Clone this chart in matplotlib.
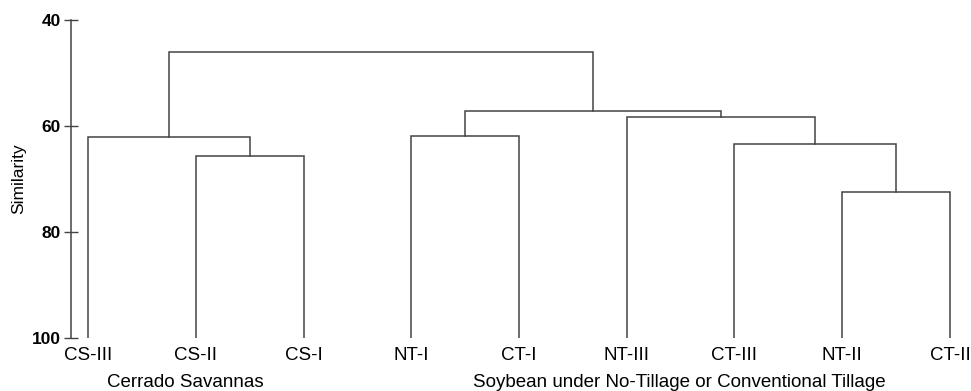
import matplotlib
matplotlib.use("Agg")
import matplotlib.pyplot as plt

plt.rcParams['font.family'] = ['Liberation Sans', 'DejaVu Sans']

# leaves in dendrogram order
leaf_labels = ['CS-III', 'CS-II', 'CS-I', 'NT-I', 'CT-I',
               'NT-III', 'CT-III', 'NT-II', 'CT-II']

# merges: child a, child b, similarity (new cluster ids start at len(leaf_labels))
merge_a = [1, 0, 3, 7, 6, 5, 11, 10]
merge_b = [2, 9, 4, 8, 12, 13, 14, 15]
merge_sim = [65.6, 62.1, 61.9, 72.5, 63.3, 58.3, 57.2, 46.0]

group_names = ['Cerrado Savannas',
               'Soybean under No-Tillage or Conventional Tillage']
group_centers = [0.9, 5.49]

line_col = '#444444'

fig = plt.figure(figsize=(9.71, 3.91), dpi=100)
ax = fig.add_axes([0.0728, 0.1348, 0.9272, 0.814])

n = len(leaf_labels)
pos = {i: float(i) for i in range(n)}
height = {i: 100.0 for i in range(n)}

for k, (a, b, h) in enumerate(zip(merge_a, merge_b, merge_sim)):
    xa, xb = pos[a], pos[b]
    ax.plot([xa, xa, xb, xb], [height[a], h, h, height[b]],
            color=line_col, lw=1.1, solid_joinstyle='miter')
    pos[n + k] = (xa + xb) / 2
    height[n + k] = h

ax.set_ylim(100, 40)
ax.set_xlim(-0.163, 8.196)
ax.set_yticks([40, 60, 80, 100])
ax.tick_params(axis='y', direction='inout', length=10.5, width=1,
               color=line_col, labelsize=12.5, pad=2)
for t in ax.get_yticklabels():
    t.set_fontweight('bold')
ax.set_xticks([])
for s in ['top', 'right', 'bottom']:
    ax.spines[s].set_visible(False)
ax.spines['left'].set_color(line_col)
ax.spines['left'].set_linewidth(1.1)

ax.set_ylabel('Similarity', fontsize=12.5, labelpad=4)

for i, lab in enumerate(leaf_labels):
    ax.annotate(lab, xy=(i, 0), xycoords=('data', 'axes fraction'),
                xytext=(0, -12.2), textcoords='offset points',
                ha='center', va='center', fontsize=13.5)

for name, cx in zip(group_names, group_centers):
    ax.annotate(name, xy=(cx, 0), xycoords=('data', 'axes fraction'),
                xytext=(0, -31.5), textcoords='offset points',
                ha='center', va='center', fontsize=13.5)

fig.savefig('out.png', dpi=100)
